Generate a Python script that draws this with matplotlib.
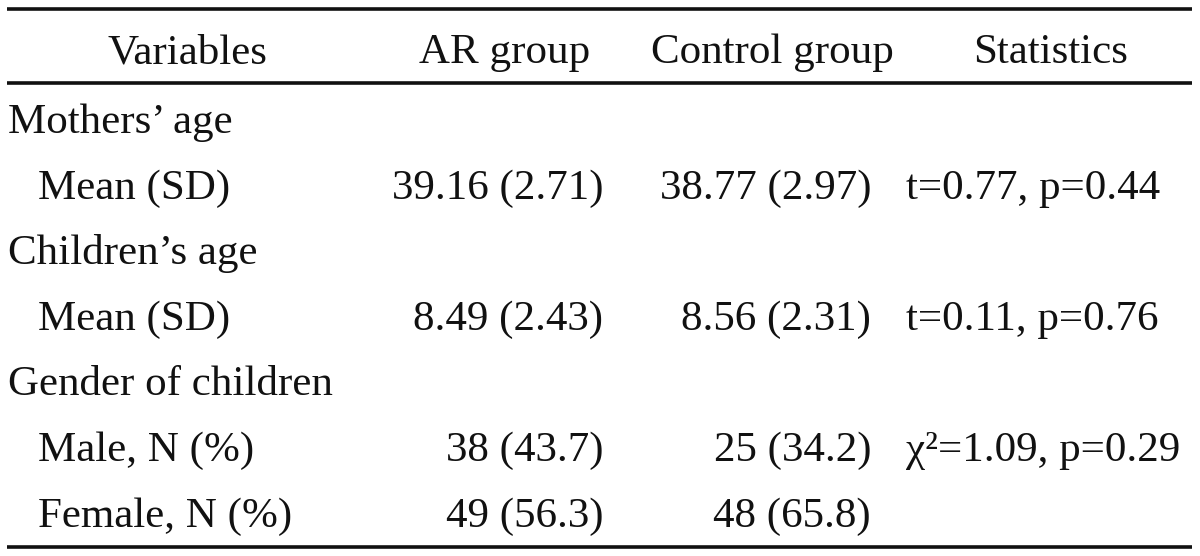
import matplotlib
matplotlib.use("Agg")
import matplotlib.pyplot as plt

# ---- table content ----
headers = ["Variables", "AR group", "Control group", "Statistics"]
row_labels = ["Mothers\u2019 age", "Mean (SD)", "Children\u2019s age", "Mean (SD)",
              "Gender of children", "Male, N (%)", "Female, N (%)"]
row_indent = [0, 1, 0, 1, 0, 1, 1]
ar_group = ["", "39.16 (2.71)", "", "8.49 (2.43)", "", "38 (43.7)", "49 (56.3)"]
control_group = ["", "38.77 (2.97)", "", "8.56 (2.31)", "", "25 (34.2)", "48 (65.8)"]
statistics = ["", "t=0.77, p=0.44", "", "t=0.11, p=0.76", "", "\u03c7\u00b2=1.09, p=0.29", ""]

W, H = 1200, 556
fig = plt.figure(figsize=(W / 100, H / 100), dpi=100)
ax = fig.add_axes([0, 0, 1, 1])
ax.set_xlim(0, W)
ax.set_ylim(H, 0)
ax.axis("off")

font = dict(family="Liberation Serif", size=31, color="#111111")

# layout
header_base = 63
row_base0 = 133
row_step = 65.6
x_left = 8
x_indent = 38
x_ar_right = 603
x_ctrl_right = 871
x_stat_left = 906
header_centers = [187, 505, 772, 1051]

# rules
lw = 2.6
for y in (9, 83, 547):
    ax.plot([7, 1192], [y, y], color="#111111", lw=lw, solid_capstyle="butt")

for h, xc in zip(headers, header_centers):
    ax.text(xc, header_base, h, ha="center", va="baseline", **font)

for i, lab in enumerate(row_labels):
    yb = row_base0 + i * row_step
    ax.text(x_indent if row_indent[i] else x_left, yb, lab, ha="left", va="baseline", **font)
    if ar_group[i]:
        ax.text(x_ar_right, yb, ar_group[i], ha="right", va="baseline", **font)
    if control_group[i]:
        ax.text(x_ctrl_right, yb, control_group[i], ha="right", va="baseline", **font)
    if statistics[i]:
        ax.text(x_stat_left, yb, statistics[i], ha="left", va="baseline", **font)

fig.savefig("out.png", dpi=100, facecolor="white")
